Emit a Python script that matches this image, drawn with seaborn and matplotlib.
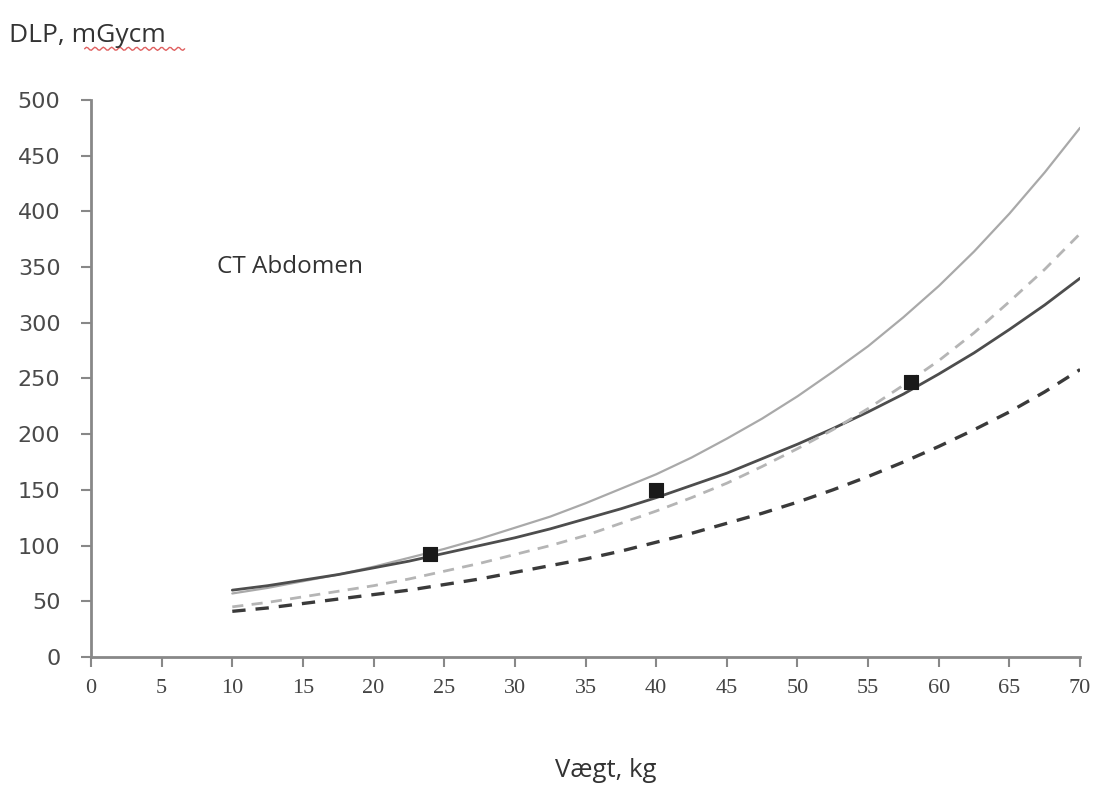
import numpy as np
import pandas as pd
import matplotlib
matplotlib.use("Agg")
import matplotlib.pyplot as plt
import seaborn as sns

# Data
weight = [10, 12.5, 15, 17.5, 20, 22.5, 25, 27.5, 30, 32.5, 35, 37.5, 40,
          42.5, 45, 47.5, 50, 52.5, 55, 57.5, 60, 62.5, 65, 67.5, 70]
light_solid = [57, 62, 68, 74, 81, 89, 97, 106, 116, 126, 138, 151, 164,
               179, 196, 214, 234, 256, 279, 305, 333, 364, 398, 435, 475]
dark_solid = [60, 64, 69, 74, 80, 86, 93, 100, 107, 115, 124, 133, 143,
              154, 165, 178, 191, 205, 220, 236, 254, 273, 294, 316, 340]
light_dashed = [45, 49, 54, 59, 64, 70, 77, 84, 92, 100, 109, 120, 131,
                143, 156, 171, 187, 204, 223, 244, 266, 291, 319, 348, 380]
dark_dashed = [41, 44, 48, 52, 56, 60, 65, 70, 76, 82, 88, 95, 103,
               111, 120, 129, 139, 150, 162, 175, 189, 204, 220, 238, 258]
point_x = [24, 40, 58]
point_y = [92, 150, 247]
x_ticks = list(range(0, 75, 5))
y_ticks = list(range(0, 550, 50))

sns.set_theme(style="white")
plt.rcParams['font.family'] = ['DejaVu Sans']

fig = plt.figure(figsize=(10.99, 7.87), dpi=100)
ax = fig.add_axes([0.0828, 0.1652, 0.9, 0.7078])

styles = [
    (light_solid, "#a9a9a9", "-", 1.6),
    (dark_solid, "#4d4d4d", "-", 2.0),
    (light_dashed, "#b5b5b5", (0, (4, 3)), 2.0),
    (dark_dashed, "#3a3a3a", (0, (4, 3)), 2.4),
]
for vals, col, ls, lw in styles:
    df = pd.DataFrame({"x": weight, "y": vals})
    sns.lineplot(data=df, x="x", y="y", ax=ax, color=col, linestyle=ls, linewidth=lw)

sns.scatterplot(x=point_x, y=point_y, ax=ax, marker="s", s=100, color="#1a1a1a",
                edgecolor="#1a1a1a", zorder=5)

ax.set_xlim(0, 70)
ax.set_ylim(0, 500)
ax.set_xticks(x_ticks)
ax.set_yticks(y_ticks)
ax.set_xticklabels([str(t) for t in x_ticks], family="Liberation Serif", fontsize=16, color="#444444")
ax.set_yticklabels([str(t) for t in y_ticks], family="DejaVu Sans", fontsize=16, color="#4a4a4a")
ax.set_xlabel("")
ax.set_ylabel("")
ax.tick_params(axis="both", direction="out", length=7, width=1.5, color="#888888",
               bottom=True, left=True)
ax.tick_params(axis="y", pad=15)
ax.tick_params(axis="x", pad=9)
for side in ["top", "right"]:
    ax.spines[side].set_visible(False)
for side in ["left", "bottom"]:
    ax.spines[side].set_color("#888888")
    ax.spines[side].set_linewidth(2)
ax.spines["left"].set_bounds(0, 500)

ax.text(8.9, 350, "CT Abdomen", fontsize=17.5, family="Open Sans", color="#333333", va="center")

fig.text(0.008, 0.955, "DLP, mGycm", fontsize=19, family="Open Sans", color="#333333", va="center")
# spell-check squiggle under "mGycm"
sx = np.linspace(0.077, 0.168, 60)
sy = 0.938 + 0.002 * np.sin(np.linspace(0, 24 * np.pi, 60))
fig.add_artist(plt.Line2D(sx, sy, transform=fig.transFigure, color="#e06060", linewidth=1))

fig.text(0.551, 0.021, "Vægt, kg", fontsize=18.5, family="Open Sans", color="#333333", ha="center", va="center")

fig.savefig("out.png", dpi=100, facecolor="white")
